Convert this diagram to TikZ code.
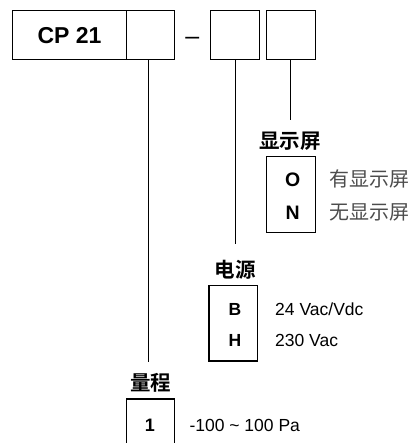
\documentclass[tikz,border=0pt]{standalone}
\usepackage{fontspec}
\setmainfont{Liberation Sans}
\newfontfamily\cjk{Noto Sans CJK SC}
\newfontfamily\cjkb{Noto Sans CJK SC Bold}
\begin{document}
\begin{tikzpicture}[x=1pt,y=-1pt,
  box/.style={draw, line width=1.1pt, inner sep=0pt},
  code/.style={inner sep=0pt, anchor=base, font=\bfseries\fontsize{18}{18}\selectfont},
  lbl/.style={inner sep=0pt, anchor=base west, font=\fontsize{17.5}{17.5}\selectfont},
  cjklbl/.style={inner sep=0pt, anchor=west, text=black!70, font=\cjk\fontsize{20}{20}\selectfont},
  title/.style={inner sep=0pt, font=\cjkb\fontsize{20.5}{20.5}\selectfont},
  conn/.style={line width=1pt}]
\useasboundingbox (0,0) rectangle (414,443);
\clip (0,0) rectangle (414,443);
% top row
\node[box, minimum width=114.4pt, minimum height=49pt, font=\bfseries\fontsize{23}{23}\selectfont] (cp) at (69.5,35.2) {CP 21};
\node[box, minimum width=48pt, minimum height=49pt] (b2) at (150.7,35.2) {};
\node[inner sep=0pt, anchor=base, font=\fontsize{25}{25}\selectfont] (dash) at (192.2,44.6) {–};
\node[box, minimum width=48.6pt, minimum height=49pt] (b3) at (235,35.2) {};
\node[box, minimum width=48.6pt, minimum height=49pt] (b4) at (291,35.2) {};
% connector ends
\coordinate (e2) at (148.7,361.7);
\coordinate (e3) at (235.2,244.3);
\coordinate (e4) at (290.8,120);
\draw[conn] (b2.south -| e2) -- (e2);
\draw[conn] (b3.south -| e3) -- (e3);
\draw[conn] (b4.south -| e4) -- (e4);
% display
\node[title] (t4) at (290,141.7) {显示屏};
\node[box, minimum width=48.6pt, minimum height=75.6pt] (dbox) at (291,194.5) {};
\node[code, font=\bfseries\fontsize{19.5}{19.5}\selectfont] (o) at (292.7,186.5) {O};
\node[code, font=\bfseries\fontsize{19.5}{19.5}\selectfont] (n) at (292.7,219.3) {N};
\node[cjklbl] (lo) at (329.3,179.3) {有显示屏};
\node[cjklbl] (ln) at (329.3,212.3) {无显示屏};
% power
\node[title] (t3) at (235,270) {电源};
\node[box, minimum width=48.7pt, minimum height=75.3pt] (pbox) at (233.35,323.35) {};
\node[code, font=\bfseries\fontsize{17.5}{17.5}\selectfont] (b) at (235,315.7) {B};
\node[code, font=\bfseries\fontsize{17.5}{17.5}\selectfont] (h) at (235,346.7) {H};
\node[lbl] (lb) at (275,315.7) {24 Vac/Vdc};
\node[lbl] (lh) at (275,346.7) {230 Vac};
% range
\node[title] (t2) at (150.8,382.7) {量程};
\node[box, minimum width=47.6pt, minimum height=70pt] (rbox) at (150.5,434) {};
\node[code] (one) at (150,431.7) {1};
\node[lbl] (l1) at (189.3,431.7) {-100 \char`\~{} 100 Pa};
\end{tikzpicture}
\end{document}
